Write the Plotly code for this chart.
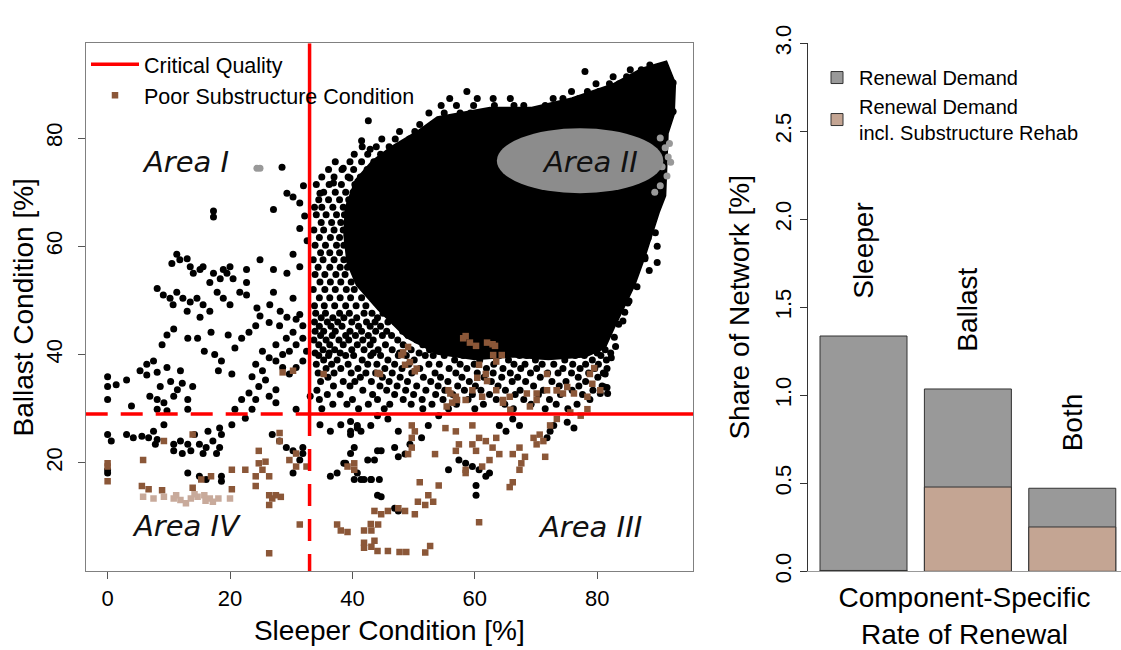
import plotly.graph_objects as go

# ---------------- data ----------------
crit_sleeper = 33.0   # critical sleeper condition [%]
crit_ballast = 29.0   # critical ballast condition [%]

# outline of the saturated (fully black) part of the point cloud (sleeper %, ballast %)
dense_core = [(50.8, 80.9), (54.0, 83.5), (62.5, 85.2), (69.2, 85.2), (76.0, 87.0), (82.7, 89.6),
              (87.5, 92.5), (91.1, 93.7), (92.4, 90.0), (92.2, 84.4), (91.2, 80.9), (90.8, 69.4),
              (89.8, 66.5), (88.6, 62.0), (87.4, 58.0), (85.8, 53.0), (84.0, 49.0), (82.4, 45.0),
              (81.0, 41.5), (78.0, 40.0), (72.0, 39.5), (66.0, 40.0), (60.0, 39.5), (54.0, 40.5),
              (49.0, 43.5), (44.5, 48.5), (41.0, 53.0), (39.5, 57.0), (39.0, 62.0), (39.2, 67.0),
              (40.8, 72.0), (43.5, 75.5), (46.5, 78.0), (50.8, 80.9)]

# densely packed sections around the core: ballast value -> sleeper values
dense_rows = {
    92.6: [85.4, 87.2],
    91.3: [82.6, 84.8, 86.2],
    90.0: [79.8, 82.0, 83.6],
    88.6: [58.7, 75.8, 78.4, 80.3],
    87.3: [55.9, 60.4, 63.0, 65.8, 72.8, 74.4, 77.0],
    86.0: [54.5, 57.0, 59.8, 63.2, 66.4, 68.0, 71.5],
    84.6: [52.5, 55.0, 57.6, 59.3, 61.8],
    82.5: [51.0, 53.2],
    81.2: [47.7, 50.2, 52.4],
    79.8: [44.8, 47.0, 49.3],
    78.4: [41.6, 43.9, 46.0, 48.2],
    77.0: [40.3, 42.5, 44.6, 46.8],
    75.6: [37.2, 39.6, 41.5, 43.5, 45.2],
    74.2: [36.1, 38.3, 40.2, 42.4, 44.0],
    72.8: [35.0, 37.0, 39.3, 41.3, 42.7],
    71.4: [34.1, 36.2, 38.2, 40.4, 41.6],
    70.0: [35.3, 37.2, 38.9, 40.1],
    68.6: [34.5, 36.1, 37.9, 39.4],
    67.2: [33.8, 35.0, 36.8, 38.5],
    65.8: [34.1, 35.7, 37.4, 38.7],
    64.4: [34.9, 36.6, 38.1],
    63.0: [33.7, 35.3, 37.0, 38.5],
    61.6: [34.6, 36.4, 37.9],
    60.2: [33.9, 35.6, 37.4, 38.6],
    58.8: [34.8, 36.3, 37.9],
    57.5: [33.6, 35.2, 37.0, 38.6],
    56.1: [34.4, 36.3, 38.0, 39.2],
    54.8: [33.9, 35.5, 37.3, 38.8],
    53.4: [34.7, 36.4, 38.1, 39.8],
    52.0: [33.6, 35.5, 37.2, 39.0, 40.3],
    50.5: [34.6, 36.3, 38.0, 39.7, 41.5, 43.3],
    49.0: [33.8, 35.4, 37.1, 38.9, 40.6, 42.2],
    47.6: [34.0, 35.6, 37.9, 39.5, 41.9, 43.2, 45.0],
    46.8: [34.9, 36.8, 38.6, 40.7, 44.1, 46.3, 47.4],
    46.0: [33.8, 35.9, 37.6, 39.9, 42.3, 43.7, 45.8, 47.0, 48.6],
    45.2: [34.6, 36.5, 38.3, 41.0, 42.9, 44.6, 47.8, 49.5],
    44.3: [33.9, 35.3, 37.2, 39.6, 41.5, 43.8, 45.6, 48.2, 50.3, 51.6],
    43.5: [34.8, 36.7, 38.9, 40.5, 42.6, 44.9, 46.4, 49.1, 52.4],
    42.7: [33.7, 35.7, 37.8, 39.4, 41.7, 43.4, 47.4, 50.5, 53.3, 55.8, 58.0],
    41.8: [34.5, 36.3, 38.5, 40.8, 42.9, 45.4, 48.3, 51.5, 54.5, 57.0, 61.2, 63.8, 68.7, 73.6],
    40.9: [35.2, 37.1, 39.9, 41.9, 44.2, 46.5, 49.6, 52.6, 55.9, 59.1, 65.7, 70.6, 75.6, 78.9, 81.3],
    40.3: [33.9, 36.2, 38.0, 43.4, 47.7, 50.9, 57.8, 62.8, 67.8, 72.4, 77.3, 80.0, 82.2],
    39.8: [34.5, 36.1, 38.9, 40.2, 43.0, 44.6, 47.5, 48.8, 51.9, 53.2, 55.0, 58.1, 59.4, 62.6, 64.0,
           67.3, 68.5, 71.8, 73.1, 76.4, 77.9, 80.6],
    39.0: [35.3, 37.5, 41.6, 45.8, 50.1, 56.7, 60.8, 65.5, 69.9, 74.7, 79.2, 81.5],
    38.2: [34.1, 36.6, 39.3, 42.5, 44.0, 46.9, 49.2, 52.5, 54.2, 57.6, 59.9, 63.1, 66.4, 68.2, 71.0,
           72.9, 76.0, 78.1, 80.2],
    37.4: [35.7, 38.1, 40.9, 45.3, 48.1, 51.0, 55.8, 58.7, 61.9, 64.6, 67.5, 70.1, 74.4, 77.2, 79.6],
    36.6: [34.4, 37.0, 39.8, 42.2, 43.8, 46.5, 49.7, 53.5, 56.9, 60.4, 63.0, 65.8, 69.1, 71.9, 73.6,
           75.8, 78.6, 81.0],
    35.8: [36.0, 41.3, 44.9, 47.8, 51.6, 54.4, 57.9, 61.5, 64.4, 67.0, 70.7, 76.9, 80.1],
    35.0: [34.8, 38.5, 40.4, 43.1, 46.0, 49.0, 52.8, 55.6, 59.1, 62.7, 66.1, 68.3, 72.6, 74.9, 78.1],
    34.2: [36.9, 39.6, 44.5, 47.3, 50.5, 54.0, 57.2, 60.1, 63.8, 69.6, 73.8, 77.0, 80.8],
    33.4: [34.2, 41.7, 45.6, 48.7, 52.0, 55.1, 58.3, 61.0, 65.0, 67.4, 71.2, 75.9, 79.3],
    32.6: [35.9, 38.0, 43.3, 46.9, 50.0, 53.6, 56.4, 59.6, 62.4, 66.6, 70.4, 74.0, 77.6],
    31.7: [34.6, 40.0, 44.1, 48.3, 51.4, 54.8, 58.9, 63.5, 68.0, 72.2, 78.8],
    30.8: [36.8, 39.1, 42.6, 46.1, 49.6, 53.0, 57.0, 61.4, 64.9, 69.2, 73.3, 76.7],
    30.0: [35.0, 41.0, 45.2, 51.5, 55.7, 60.0, 66.3, 71.5, 75.2],
}

# individually visible sections (black dots)
sections = [
    (0, 35.9), (0, 34.1), (0, 31.7), (1.4, 34.4), (3.1, 35.3), (3.9, 30.5), (5.3, 37.0), (6.4, 38.2),
    (7.5, 38.8), (6.4, 36.2), (8.1, 36.7), (8.6, 34.1), (6.9, 32.3), (8.1, 31.7), (9.2, 31.1), (9.7, 29.6),
    (10.8, 32.3), (10.3, 35.0), (11.9, 37.0), (11.4, 33.5), (13.1, 31.7), (13.9, 34.1), (9.7, 37.6),
    (10.8, 44.7), (9.7, 43.6), (8.9, 41.8), (12.2, 34.7), (13.1, 29.9), (8.1, 29.9),
    (0, 25.2), (0.6, 24.0), (3.1, 25.2), (4.2, 24.6), (5.6, 24.9), (6.7, 24.6), (7.5, 25.8), (8.1, 24.3),
    (9.2, 27.0), (7.8, 23.4), (10.8, 23.4), (11.9, 24.0), (13.1, 23.4), (10.8, 22.2), (12.2, 21.7),
    (13.6, 22.2), (15.0, 23.4), (16.1, 22.8), (17.2, 24.0), (18.3, 22.8), (17.8, 21.7), (15.6, 21.7),
    (14.2, 25.2), (16.4, 25.8), (18.6, 25.2), (18.3, 26.4), (20.3, 27.0), (0, 18.7), (0, 18.1),
    (13.1, 18.1), (15.0, 17.5), (16.1, 16.9), (18.6, 17.5), (18.6, 16.6),
    (20.8, 29.9), (21.9, 31.7), (23.1, 32.9), (24.2, 31.7), (23.6, 29.9), (22.5, 28.2), (24.7, 34.1),
    (25.8, 35.3), (26.4, 32.3), (27.5, 31.1), (25.3, 37.0), (26.4, 39.4), (27.5, 38.8), (28.6, 40.0),
    (29.7, 40.6), (30.8, 41.8), (31.9, 43.0), (30.3, 44.1), (29.2, 43.0), (27.5, 41.8), (25.3, 40.6),
    (24.2, 38.2), (23.6, 35.9), (20.3, 36.4), (18.1, 37.0), (18.6, 38.8), (17.5, 40.0), (15.8, 40.6),
    (14.7, 43.0), (13.1, 43.0), (16.9, 44.1), (19.7, 43.6), (21.9, 43.0), (20.8, 41.2), (23.1, 44.1),
    (24.2, 45.3), (26.4, 45.9), (28.1, 45.3), (30.8, 46.5), (31.9, 38.8), (30.8, 37.6), (29.7, 36.4),
    (28.6, 37.6), (32.5, 40.6), (31.9, 45.3), (33.1, 32.3), (30.8, 29.9), (27.5, 33.5), (26.9, 25.2),
    (28.1, 24.0), (29.2, 22.8), (30.3, 22.2), (31.9, 21.7), (31.4, 20.5), (30.3, 18.1), (31.9, 22.8),
    (34.7, 27.0), (36.4, 25.8), (38.1, 27.0), (39.7, 27.6), (40.8, 26.4), (39.7, 25.2), (40.3, 22.8),
    (39.7, 21.7), (38.6, 19.9), (37.5, 18.1), (36.4, 17.5), (40.8, 18.1), (41.9, 16.9), (43.1, 16.9),
    (43.6, 20.5), (44.7, 22.2),
    (46.9, 22.8), (47.5, 21.1), (48.6, 21.6), (49.4, 23.4), (44.1, 22.2), (42.5, 20.5), (40.3, 16.9),
    (41.4, 16.9), (43.0, 16.9), (44.4, 16.9), (38.9, 19.9), (39.7, 25.8), (40.8, 26.9), (41.4, 25.8),
    (44.1, 14.0), (44.7, 13.7), (46.9, 11.6), (47.5, 11.1), (55.7, 18.7), (57.4, 20.5), (58.5, 19.9),
    (59.6, 19.3), (60.7, 18.7), (61.8, 17.5), (62.4, 18.1), (60.2, 15.8), (60.2, 14.0), (71.8, 24.6),
    (72.3, 25.8), (72.9, 26.9), (75.1, 27.5), (76.2, 26.4), (43.0, 26.9), (44.1, 28.7), (45.8, 28.1),
    (47.5, 25.8), (52.4, 26.9), (54.1, 28.7), (51.3, 24.6), (64.0, 26.9), (65.1, 25.8), (66.2, 28.1),
    (67.3, 26.9), (81.2, 34.0), (81.7, 32.8), (81.6, 37.4), (81.3, 36.4), (81.6, 33.9), (80.5, 32.8),
    (82.8, 43.2), (83.5, 45.6), (84.5, 47.8), (85.2, 49.9), (83.0, 41.5), (82.3, 39.4),
    (42.6, 83.2), (41.5, 79.5), (42.9, 77.9), (38.5, 74.4), (36.9, 71.7), (34.7, 69.8), (39.6, 72.6),
    (32.0, 71.2), (30.3, 69.1), (29.3, 69.8), (31.4, 68.0), (32.2, 65.6), (27.1, 66.8), (17.3, 66.5),
    (17.3, 65.4), (31.4, 63.3), (32.6, 61.0), (30.3, 58.5), (29.3, 55.0), (31.4, 56.2), (30.3, 50.4),
    (31.4, 47.4), (29.3, 46.9), (27.1, 55.7), (26.5, 49.2), (24.9, 47.1), (22.7, 55.7), (22.7, 53.3),
    (22.7, 51.0), (21.6, 51.5), (24.4, 48.6),
    (11.3, 58.5), (10.5, 56.8), (11.8, 57.5), (13.0, 57.7), (13.5, 56.2), (14.0, 55.0), (15.1, 55.7),
    (15.6, 56.2), (17.3, 55.0), (18.9, 55.7), (20.0, 56.2), (19.5, 55.0), (20.5, 54.0), (8.1, 52.2),
    (9.1, 51.0), (10.2, 50.4), (11.3, 51.5), (12.3, 50.4), (13.5, 49.7), (14.6, 50.4), (15.6, 49.2),
    (16.7, 53.3), (18.4, 54.0), (17.9, 51.5), (18.9, 50.4), (20.0, 49.2), (16.7, 48.0), (15.1, 46.9),
    (13.0, 48.0), (10.7, 49.2), (24.9, 57.5), (27.1, 51.5), (28.2, 48.0), (28.5, 74.6),
    (78.0, 92.3), (88.6, 93.5), (90.8, 93.2), (92.4, 90.2), (92.4, 84.9),
    (88.1, 64.5), (88.1, 61.5), (87.8, 58.0), (85.9, 55.0), (84.2, 46.2), (86.5, 63.3), (87.0, 59.8),
    (89.1, 67.3), (88.3, 61.5), (87.8, 57.7), (89.5, 62.5), (89.8, 60.0), (89.8, 57.0), (88.5, 55.5),
    (86.5, 52.5), (85.0, 49.5),
]

# sections with poor substructure condition (brown squares)
poor_substructure = [
    (0, 19.9), (0, 16.6), (0, 19.3), (5.8, 20.5), (9.2, 24.0), (13.9, 25.2), (5.6, 15.7), (6.7, 15.1),
    (8.9, 14.9), (13.9, 15.4), (15.3, 16.9), (16.9, 17.5), (20.3, 18.7), (22.5, 18.7), (24.2, 17.5),
    (25.3, 18.7), (25.8, 20.2), (24.7, 19.9), (26.4, 17.5), (24.2, 15.7), (20.3, 15.1), (26.4, 14.0),
    (27.5, 14.0), (28.3, 13.7), (26.4, 12.2), (26.9, 13.4), (24.7, 22.2), (28.1, 24.0), (28.1, 25.5),
    (29.7, 20.5), (30.8, 21.7), (32.5, 19.3), (30.8, 19.3), (30.3, 37.0), (28.6, 36.7), (35.3, 36.4),
    (31.4, 8.6), (26.4, 3.3), (37.5, 8.6), (38.1, 7.5), (39.2, 7.2), (40.3, 18.7), (40.3, 19.9),
    (43.1, 7.5), (44.2, 8.6), (43.1, 4.5), (43.6, 5.6),
    (58.5, 43.4), (60.2, 41.6), (62.9, 41.9), (63.5, 38.7), (60.7, 38.1), (61.8, 36.4), (49.1, 41.4),
    (48.0, 39.9), (48.6, 38.1), (50.2, 36.9), (44.1, 36.6), (55.7, 33.4), (56.9, 32.2), (56.3, 31.1),
    (58.5, 31.6), (59.6, 33.4), (61.2, 32.2), (63.5, 33.4), (64.6, 31.1), (65.7, 32.2), (68.5, 32.8),
    (70.1, 31.6), (71.8, 33.4), (73.4, 33.4), (75.1, 34.0), (76.2, 32.8), (78.4, 32.2), (79.5, 37.5),
    (78.4, 29.9), (77.3, 28.7), (75.6, 29.3), (73.4, 28.1), (72.3, 26.9), (70.6, 25.2), (69.6, 24.6),
    (70.1, 23.4), (71.2, 24.0), (67.3, 22.8), (66.2, 21.6), (67.3, 18.7), (66.2, 16.4), (65.7, 15.5),
    (64.0, 21.6), (62.9, 22.8), (63.5, 24.6), (61.8, 24.0), (60.7, 24.6), (59.6, 23.4), (60.2, 22.2),
    (62.4, 20.5), (61.2, 19.3), (58.5, 18.7), (57.4, 23.4), (56.9, 25.8), (56.9, 22.2), (59.6, 26.9),
    (55.2, 26.4), (53.5, 21.6), (49.7, 26.9), (50.2, 25.8), (49.7, 24.6), (49.7, 22.8), (49.1, 21.6),
    (39.2, 19.3), (51.0, 16.4), (52.4, 14.0), (54.1, 15.8), (50.7, 12.8), (53.2, 12.8), (51.9, 12.2),
    (48.6, 11.1), (47.5, 11.6), (45.8, 11.1), (43.6, 11.1), (44.7, 10.5), (43.0, 8.7), (41.9, 7.5),
    (41.9, 5.2), (41.9, 4.3), (44.1, 3.7), (45.8, 3.7), (47.7, 3.5), (48.8, 3.5), (51.9, 3.4),
    (52.7, 4.6), (50.2, 10.5), (60.7, 9.0), (58.5, 18.1), (67.6, 19.9), (68.2, 21.1), (71.5, 21.1),
    (58.1, 43.0), (59.2, 42.2), (62.0, 42.2), (63.3, 41.6), (63.0, 39.9), (64.4, 39.9), (48.3, 40.4),
    (49.4, 38.6), (44.5, 36.4), (50.5, 37.4), (56.0, 32.8), (57.1, 31.6), (55.4, 30.4), (60.4, 35.7),
    (62.0, 35.1), (71.8, 36.4), (73.4, 33.4), (74.4, 32.8), (78.8, 36.4), (79.2, 34.6), (80.5, 33.4),
    (70.1, 32.8), (69.0, 30.4), (65.8, 29.8), (64.6, 31.6),
]

# highlighted sections in Area IV (light brown) and Area I / Area II (grey)
area4_highlight = [(5.8, 13.7), (7.5, 13.4), (9.2, 13.7), (10.8, 13.4), (11.9, 13.1), (12.8, 12.5),
                   (13.6, 13.4), (14.7, 13.7), (15.8, 14.0), (16.7, 13.4), (17.2, 12.8), (18.1, 13.4),
                   (20.0, 13.4), (11.2, 14.0), (14.2, 14.2), (16.0, 13.0)]
grey_highlight = [(24.4, 74.4), (24.9, 74.4), (90.3, 80.0), (91.1, 78.2), (91.6, 76.5), (90.6, 74.7),
                  (91.4, 73.0), (90.3, 71.2), (89.4, 70.0), (91.8, 79.0), (92.0, 75.5)]

# bar chart
categories = ["Sleeper", "Ballast", "Both"]
renewal_demand = [1.337, 1.036, 0.472]
renewal_incl_substructure = [0.005, 0.479, 0.252]

# ---------------- layout constants ----------------
W, H = 1121, 650
X_RANGE = [-3.58, 95.65]
Y_RANGE = [-0.06, 97.5]
FONT = "Liberation Sans, Arial, sans-serif"
BROWN = "#8b5738"


def xs(pts):
    return [p[0] for p in pts]


def ys(pts):
    return [p[1] for p in pts]


row_x = [sx for by, row in dense_rows.items() for sx in row]
row_y = [by for by, row in dense_rows.items() for sx in row]

fig = go.Figure()

# dense core of the cloud
fig.add_trace(go.Scatter(x=xs(dense_core), y=ys(dense_core), mode="lines", fill="toself",
                         fillcolor="black", line=dict(color="black", width=6),
                         hoverinfo="skip", showlegend=False, xaxis="x", yaxis="y"))
fig.add_trace(go.Scatter(x=row_x + xs(sections), y=row_y + ys(sections), mode="markers",
                         marker=dict(color="black", size=7, line=dict(width=0)),
                         showlegend=False, xaxis="x", yaxis="y"))
fig.add_trace(go.Scatter(x=xs(grey_highlight), y=ys(grey_highlight), mode="markers",
                         marker=dict(color="#999999", size=7, line=dict(width=0)),
                         showlegend=False, xaxis="x", yaxis="y"))
fig.add_trace(go.Scatter(x=xs(poor_substructure), y=ys(poor_substructure), mode="markers",
                         name="Poor Substructure Condition", legend="legend", legendrank=2,
                         marker=dict(color=BROWN, size=6.5, symbol="square", line=dict(width=0)),
                         xaxis="x", yaxis="y"))
fig.add_trace(go.Scatter(x=xs(area4_highlight), y=ys(area4_highlight), mode="markers",
                         marker=dict(color="#c8aa9b", size=6.5, symbol="square", line=dict(width=0)),
                         showlegend=False, xaxis="x", yaxis="y"))

# critical quality lines
fig.add_trace(go.Scatter(x=[crit_sleeper, crit_sleeper, None, crit_sleeper, X_RANGE[1]],
                         y=[crit_ballast, Y_RANGE[1], None, crit_ballast, crit_ballast],
                         mode="lines", line=dict(color="#ff0000", width=3.5),
                         name="Critical Quality", legend="legend", legendrank=1,
                         xaxis="x", yaxis="y"))
fig.add_trace(go.Scatter(x=[X_RANGE[0], crit_sleeper, None, crit_sleeper, crit_sleeper],
                         y=[crit_ballast, crit_ballast, None, crit_ballast, Y_RANGE[0]],
                         mode="lines", line=dict(color="#ff0000", width=3.5, dash="22px,13px"),
                         showlegend=False, xaxis="x", yaxis="y"))

# bars
bar_pos = [0.7 + 1.2 * i for i in range(len(categories))]
fig.add_trace(go.Bar(x=bar_pos, y=renewal_demand, width=1, name="Renewal Demand",
                     marker=dict(color="#999999", line=dict(color="#333333", width=1)),
                     legend="legend2", xaxis="x2", yaxis="y2"))
fig.add_trace(go.Bar(x=bar_pos, y=renewal_incl_substructure, width=1,
                     name="Renewal Demand<br>incl. Substructure Rehab",
                     marker=dict(color="#c4a593", line=dict(color="#333333", width=1)),
                     legend="legend2", xaxis="x2", yaxis="y2"))

left_dom = [85.7 / W, 693 / W]
right_dom = [808 / W, 1.0]
y_dom = [1 - 580 / H, 1 - 25.5 / H]

axis_common = dict(showgrid=False, zeroline=False, ticks="outside", ticklen=7,
                   tickcolor="#555555", linecolor="#808080", linewidth=1,
                   tickfont=dict(family=FONT, size=22, color="black"))

annotations = []
for txt, ax, ay in [("Area I", 12.8, 75.5), ("Area II", 78.8, 75.6),
                    ("Area III", 78.8, 8.2), ("Area IV", 12.9, 8.3)]:
    annotations.append(dict(text=txt, x=ax, y=ay, xref="x", yref="y", showarrow=False,
                            font=dict(family="DejaVu Sans, Verdana, sans-serif", size=29,
                                      color="#111111", style="italic")))
for cat, xp, val in zip(categories, bar_pos, renewal_demand):
    annotations.append(dict(text=cat, x=xp, y=val + 0.2, xref="x2", yref="y2",
                            showarrow=False, textangle=-90, yanchor="bottom", xanchor="center",
                            font=dict(family=FONT, size=28, color="black")))

fig.update_layout(
    width=W, height=H, margin=dict(l=0, r=0, t=0, b=0),
    paper_bgcolor="white", plot_bgcolor="white", barmode="overlay",
    font=dict(family=FONT, color="black"),
    xaxis=dict(domain=left_dom, range=X_RANGE, tickvals=[0, 20, 40, 60, 80],
               showline=True, mirror=True, anchor="y",
               title=dict(text="Sleeper Condition [%]", font=dict(size=28), standoff=10),
               **axis_common),
    yaxis=dict(domain=y_dom, range=Y_RANGE, tickvals=[20, 40, 60, 80], tickangle=-90,
               showline=True, mirror=True, anchor="x", ticklabelstandoff=7,
               title=dict(text="Ballast Condition [%]", font=dict(size=28), standoff=0),
               **axis_common),
    xaxis2=dict(domain=right_dom, range=[0.062, 3.66], showline=True, linecolor="#999999",
                showticklabels=False, ticks="", showgrid=False, zeroline=False, anchor="y2",
                title=dict(text="Component-Specific<br>Rate of Renewal",
                           font=dict(family=FONT, size=28), standoff=16)),
    yaxis2=dict(domain=y_dom, range=[0, 3], tickvals=[0, 0.5, 1, 1.5, 2, 2.5, 3],
                tickformat=".1f", tickangle=-90, showline=True, anchor="x2",
                showgrid=False, zeroline=False, ticks="outside", ticklen=7,
                tickcolor="#333333", linecolor="#333333", linewidth=1,
                tickfont=dict(family=FONT, size=22, color="black"),
                title=dict(text="Share of Network [%]", font=dict(size=28), standoff=13)),
    legend=dict(x=86 / W, y=1 - 26 / H, xanchor="left", yanchor="top", itemwidth=48,
                bgcolor="rgba(0,0,0,0)", font=dict(family=FONT, size=21.5),
                traceorder="normal"),
    legend2=dict(x=815 / W, y=1 - 41 / H, xanchor="left", yanchor="top", itemwidth=34,
                 bgcolor="rgba(0,0,0,0)", font=dict(family=FONT, size=20),
                 traceorder="normal"),
    annotations=annotations,
    shapes=[dict(type="circle", xref="x", yref="y", x0=63.6, x1=90.8, y0=69.8, y1=81.8,
                 fillcolor="#8c8c8c", line=dict(width=0), layer="above")],
)

fig.write_html("out.html", config={"displayModeBar": False},
               post_script="document.body.style.margin='0px';")
